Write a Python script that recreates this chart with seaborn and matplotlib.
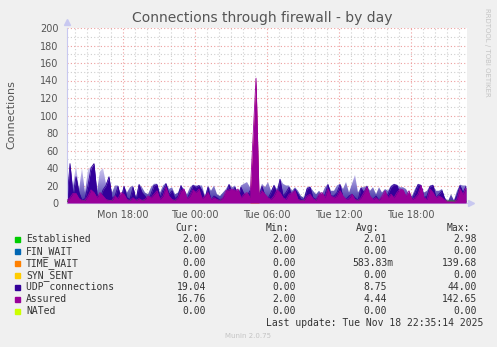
import numpy as np
import matplotlib
matplotlib.use("Agg")
import matplotlib.pyplot as plt
from matplotlib.patches import Rectangle
from matplotlib.colors import LinearSegmentedColormap
from matplotlib.ticker import MultipleLocator, FixedLocator
import seaborn as sns

# ---------------- data (15-minute samples, Mon 13:20 -> Tue 22:35) ----------------
start_hour = 13 + 20 / 60.0       # Mon 13:20, hours since Mon 00:00
step_hours = 0.25

udp = [3, 45, 8, 30, 12, 3, 5, 20, 40, 45, 10, 5, 15, 20, 30, 5, 8, 19, 3, 19,
       6, 4, 18, 3, 21, 12, 8, 3, 10, 20, 21, 6, 15, 22, 10, 14, 5, 8, 20, 10,
       4, 12, 20, 18, 20, 14, 4, 18, 3, 8, 6, 3, 5, 10, 21, 12, 18, 6, 18, 10,
       8, 14, 10, 12, 6, 19, 8, 5, 12, 20, 10, 27, 8, 12, 18, 6, 16, 10, 4, 3,
       16, 18, 6, 4, 8, 3, 10, 21, 8, 8, 12, 21, 6, 4, 8, 10, 6, 3, 17, 12,
       19, 5, 4, 8, 3, 6, 4, 10, 18, 21, 20, 10, 6, 8, 4, 3, 12, 21, 20, 6,
       8, 19, 20, 6, 10, 14, 3, 1, 1, 1, 8, 20, 12, 19.04]

udp_peak = [10, 45, 20, 43, 15, 40, 12, 38, 42, 45, 14, 36, 40, 22, 30, 12, 20, 20, 8, 20,
            12, 18, 20, 6, 22, 18, 12, 10, 18, 22, 22, 12, 20, 23, 16, 18, 10, 12, 20, 16,
            10, 18, 21, 20, 20, 20, 8, 20, 14, 20, 10, 8, 12, 16, 22, 18, 20, 10, 20, 22,
            24, 18, 16, 16, 12, 22, 18, 24, 14, 21, 16, 28, 22, 20, 20, 14, 18, 14, 8, 6,
            18, 19, 14, 10, 14, 10, 18, 22, 14, 14, 20, 22, 16, 24, 12, 22, 32, 12, 18, 18,
            20, 14, 18, 10, 18, 12, 16, 14, 20, 22, 21, 18, 18, 16, 10, 8, 16, 22, 21, 12,
            14, 20, 21, 14, 14, 16, 6, 2, 10, 3, 14, 21, 20, 20]

assured = [3, 6, 11, 11, 5, 3, 3, 8, 15, 12, 6, 12, 8, 4, 3, 3, 8, 5, 12, 10,
           4, 3, 6, 3, 5, 3, 4, 8, 6, 10, 14, 4, 8, 18, 8, 4, 3, 6, 14, 16,
           5, 8, 15, 12, 16, 5, 8, 12, 4, 6, 4, 3, 6, 14, 15, 16, 14, 16, 6, 10,
           12, 6, 75, 142.65, 10, 14, 10, 6, 4, 8, 15, 12, 6, 4, 10, 12, 14, 4, 3, 3,
           8, 10, 5, 3, 10, 12, 6, 16, 8, 6, 8, 14, 8, 4, 5, 10, 4, 3, 6, 12,
           18, 8, 4, 6, 3, 8, 14, 6, 10, 6, 12, 16, 15, 8, 14, 4, 6, 10, 20, 6,
           4, 16, 12, 6, 8, 6, 3, 2, 2, 2, 4, 16, 10, 16.76]

time_wait = [0] * 62 + [70, 139.68] + [0] * 70

established = [2, 2, 2, 2, 2, 2, 2, 2, 2, 2, 2, 2, 2, 2, 2, 2, 2, 2, 2, 2,
               2, 2, 2, 2, 2, 2, 2, 2, 2, 2, 2, 2, 2, 2, 2, 2, 2, 2, 2, 2,
               2, 2, 2, 2, 2, 2, 2, 2, 2, 2, 2, 2, 2, 2, 2, 2, 2, 2, 2, 2,
               2, 2, 2.98, 2.5, 2, 2, 2, 2, 2, 2, 2, 2, 2, 2, 2, 2, 2, 2, 2, 2,
               2, 2, 2, 2, 2, 2, 2, 2, 2, 2, 2, 2, 2, 2, 2, 2, 2, 2, 2, 2,
               2, 2, 2, 2, 2, 2, 2, 2, 2, 2, 2, 2, 2, 2, 2, 2, 2, 2, 2, 2,
               2, 2, 2, 2, 2, 2, 2, 2, 2, 2, 2, 2, 2, 2]

fin_wait = [0] * 134
syn_sent = [0] * 134
nated = [0] * 134

series_names = ["Established", "FIN_WAIT", "TIME_WAIT", "SYN_SENT",
                "UDP connections", "Assured", "NATed"]
series_colors = ["#00CC00", "#0066B3", "#FF8000", "#FFCC00",
                 "#330099", "#990099", "#CCFF00"]
cur_vals = ["2.00", "0.00", "0.00", "0.00", "19.04", "16.76", "0.00"]
min_vals = ["2.00", "0.00", "0.00", "0.00", "0.00", "2.00", "0.00"]
avg_vals = ["2.01", "0.00", "583.83m", "0.00", "8.75", "4.44", "0.00"]
max_vals = ["2.98", "0.00", "139.68", "0.00", "44.00", "142.65", "0.00"]

tick_hours = [18, 24, 30, 36, 42]
tick_labels = ["Mon 18:00", "Tue 00:00", "Tue 06:00", "Tue 12:00", "Tue 18:00"]

title = "Connections through firewall - by day"
ylabel = "Connections"
last_update = "Last update: Tue Nov 18 22:35:14 2025"
munin_ver = "Munin 2.0.75"
side_text = "RRDTOOL / TOBI OETIKER"

# ---------------- figure ----------------
sns.set_style("white")
plt.rcParams["font.family"] = ["DejaVu Sans"]

W, H = 497, 347
fig = plt.figure(figsize=(W / 100, H / 100), dpi=100, facecolor="#F0F0F0")

def fx(px):
    return px / W

def fy(py):
    return 1 - py / H

L, R, T, B = 67, 467, 28, 203
ax = fig.add_axes([fx(L), fy(B), fx(R) - fx(L), fy(T) - fy(B)])
ax.set_facecolor("white")

n = len(udp)
t = start_hour + step_hours * np.arange(n)
x0, x1 = start_hour, start_hour + 400 / 12.0

# faded envelope of UDP peaks: vertical gradient clipped to the envelope polygon
env = ax.fill_between(t, 0, udp_peak, color="none", lw=0, zorder=1)
grad_cmap = LinearSegmentedColormap.from_list(
    "fade", [(0.0, "#3A2A9E"), (0.55, "#A89EE0"), (1.0, "#ECEAF8")])
grad = np.linspace(0, 1, 256).reshape(-1, 1)
im = ax.imshow(grad, extent=[x0, x1, 0, 50], origin="lower", aspect="auto",
               cmap=grad_cmap, zorder=1, interpolation="bilinear")
im.set_clip_path(env.get_paths()[0], ax.transData)

ax.fill_between(t, 0, udp, color=series_colors[4], lw=0, zorder=2)
ax.fill_between(t, 0, time_wait, color=series_colors[2], lw=0, zorder=3)
ax.fill_between(t, 0, assured, color=series_colors[5], lw=0, zorder=4)

sns.lineplot(x=t, y=established, ax=ax, color=series_colors[0], lw=1, zorder=3)
sns.lineplot(x=t, y=fin_wait, ax=ax, color=series_colors[1], lw=0.6, zorder=0.5)
sns.lineplot(x=t, y=syn_sent, ax=ax, color=series_colors[3], lw=0.6, zorder=0.5)
sns.lineplot(x=t, y=nated, ax=ax, color=series_colors[6], lw=0.6, zorder=0.5)
sns.lineplot(x=t, y=udp, ax=ax, color=series_colors[4], lw=0.6, zorder=2.5)
sns.lineplot(x=t, y=assured, ax=ax, color=series_colors[5], lw=0.6, zorder=5)

ax.set_xlim(x0, x1)
ax.set_ylim(0, 200)

# grid
ax.xaxis.set_major_locator(FixedLocator(tick_hours))
ax.xaxis.set_minor_locator(MultipleLocator(1))
ax.yaxis.set_major_locator(MultipleLocator(20))
ax.yaxis.set_minor_locator(MultipleLocator(10))
ax.set_xticklabels(tick_labels)
ax.grid(which="minor", color="#CFCFCF", lw=0.8, ls=(0, (1, 2)), zorder=0.2)
ax.grid(which="major", color="#EE9E9E", lw=0.8, ls=(0, (1, 2)), zorder=0.3)
ax.set_axisbelow(True)

ax.tick_params(axis="x", which="major", length=2, color="#F0A0A0", labelsize=7,
               labelcolor="#555555", pad=3)
ax.tick_params(axis="x", which="minor", length=2, color="#CCCCCC")
ax.tick_params(axis="y", which="both", length=0, labelsize=7,
               labelcolor="#555555", pad=6)

for s in ["top", "right"]:
    ax.spines[s].set_visible(False)
for s in ["left", "bottom"]:
    ax.spines[s].set_color("#C8C8F0")
    ax.spines[s].set_linewidth(0.8)
ax.set_xlabel("")
ax.set_ylabel("")
if ax.get_legend():
    ax.get_legend().remove()

# axis arrows
ax.plot([0], [1.035], marker="^", ms=4, color="#C8C8F0", transform=ax.transAxes,
        clip_on=False)
ax.plot([1.009], [0], marker=">", ms=4, color="#C8C8F0", transform=ax.transAxes,
        clip_on=False)

# texts
fig.text(fx(262), fy(18), title, ha="center", va="center", fontsize=10, color="#555555")
fig.text(fx(11), fy(115), ylabel, ha="center", va="center", rotation=90,
         fontsize=8, color="#555555")
fig.text(fx(487), fy(52), side_text, ha="center", va="center", rotation=270,
         fontsize=5, color="#C4C4C4")

mono = dict(family="DejaVu Sans Mono", fontsize=7, color="#333333", va="center")
hdr_y = 228.3
for txt, xr in zip(["Cur:", "Min:", "Avg:", "Max:"], [199, 289, 379, 470]):
    fig.text(fx(xr), fy(hdr_y), txt, ha="right", **mono)

for k, name in enumerate(series_names):
    yy = 239.5 + 12 * k
    fig.patches.append(Rectangle((fx(15), fy(yy + 2.5)), fx(5), fy(0) - fy(5),
                                 transform=fig.transFigure, color=series_colors[k],
                                 figure=fig))
    fig.text(fx(26), fy(yy), name, ha="left", **mono)
    fig.text(fx(206), fy(yy), cur_vals[k], ha="right", **mono)
    fig.text(fx(296), fy(yy), min_vals[k], ha="right", **mono)
    a = avg_vals[k]
    fig.text(fx(393 if a.endswith("m") else 387), fy(yy), a, ha="right", **mono)
    fig.text(fx(477), fy(yy), max_vals[k], ha="right", **mono)

fig.text(fx(483), fy(323.5), last_update, ha="right", **mono)
fig.text(fx(248), fy(335.7), munin_ver, ha="center", va="center", fontsize=5,
         color="#C4C4C4")

fig.savefig("out.png", dpi=100, facecolor=fig.get_facecolor())
